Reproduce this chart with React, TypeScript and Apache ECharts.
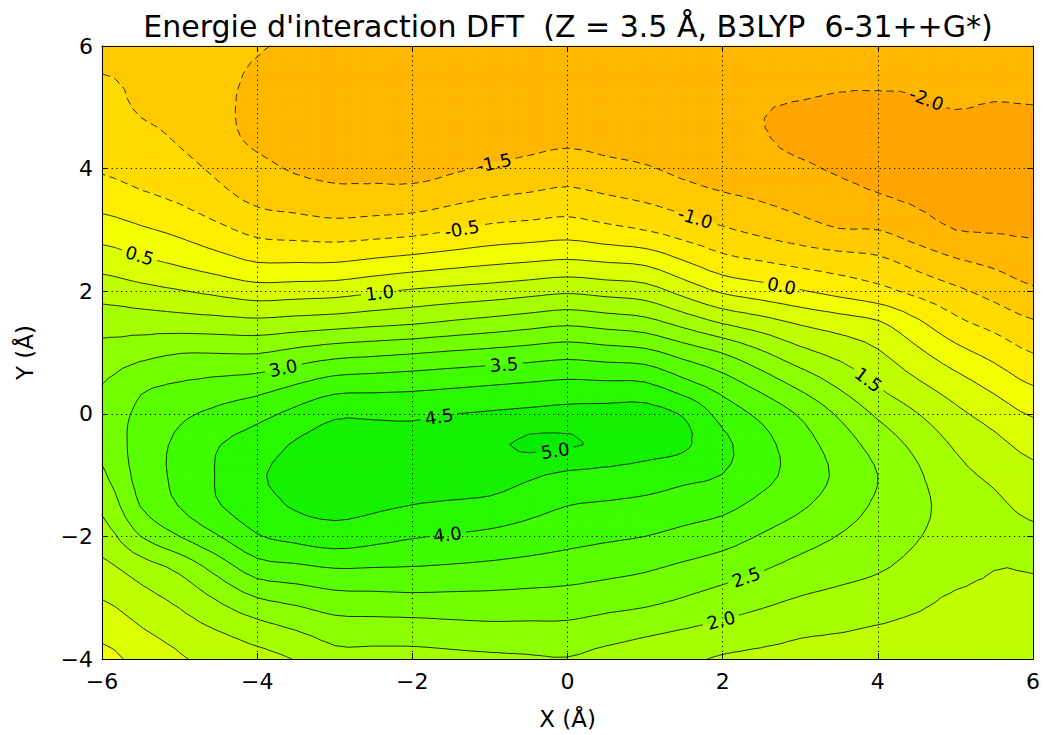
import React, { useEffect, useRef } from "react";
import * as echarts from "echarts";

// Grid of the field (Å)
const xGrid = [-6, -5.5, -5, -4.5, -4, -3.5, -3, -2.5, -2, -1.5, -1, -0.5, 0, 0.5, 1, 1.5, 2, 2.5, 3, 3.5, 4, 4.5, 5, 5.5, 6];
const yGrid = [6, 5.5, 5, 4.5, 4, 3.5, 3, 2.5, 2, 1.5, 1, 0.5, 0, -0.5, -1, -1.5, -2, -2.5, -3, -3.5, -4];

// Interaction energy, one column per x value (top y=6 to bottom y=-4)
const energy = [
  [-1.2, -0.98, -0.84, -0.69, -0.55, -0.21, 0.26, 0.77, 1.29, 1.78, 2.17, 2.49, 2.68, 2.62, 2.42, 2.11, 1.75, 1.38, 1.02, 0.68, 0.35],
  [-1.25, -1.09, -1.05, -0.87, -0.7, -0.39, 0.07, 0.58, 1.16, 1.75, 2.33, 2.88, 3.12, 3.22, 3.2, 3.02, 2.5, 1.76, 1.33, 0.98, 0.65],
  [-1.3, -1.2, -1.15, -1.05, -0.84, -0.56, -0.12, 0.39, 1.03, 1.71, 2.48, 3.02, 3.4, 3.6, 3.62, 3.52, 3.0, 2.14, 1.64, 1.27, 0.95],
  [-1.38, -1.38, -1.38, -1.33, -1.1, -0.83, -0.38, 0.18, 0.88, 1.66, 2.48, 3.13, 3.62, 3.98, 4.04, 3.97, 3.48, 2.72, 2.07, 1.54, 1.15],
  [-1.47, -1.57, -1.64, -1.6, -1.36, -1.1, -0.64, -0.04, 0.73, 1.61, 2.47, 3.23, 3.84, 4.25, 4.45, 4.3, 3.96, 3.29, 2.5, 1.81, 1.35],
  [-1.57, -1.7, -1.74, -1.68, -1.55, -1.21, -0.71, -0.05, 0.77, 1.68, 2.64, 3.47, 4.14, 4.55, 4.6, 4.55, 4.15, 3.41, 2.67, 2.04, 1.52],
  [-1.72, -1.78, -1.8, -1.75, -1.62, -1.32, -0.77, -0.05, 0.81, 1.75, 2.8, 3.71, 4.43, 4.68, 4.75, 4.64, 4.28, 3.53, 2.84, 2.27, 1.85],
  [-1.76, -1.82, -1.84, -1.79, -1.66, -1.28, -0.72, 0.06, 0.94, 1.84, 2.88, 3.76, 4.43, 4.67, 4.74, 4.58, 4.17, 3.51, 2.87, 2.29, 1.85],
  [-1.8, -1.85, -1.87, -1.82, -1.7, -1.24, -0.66, 0.17, 1.06, 1.92, 2.96, 3.81, 4.42, 4.66, 4.72, 4.49, 4.04, 3.49, 2.9, 2.3, 1.85],
  [-1.83, -1.85, -1.85, -1.78, -1.57, -1.11, -0.52, 0.28, 1.15, 2.04, 3.05, 3.88, 4.49, 4.78, 4.74, 4.43, 3.96, 3.45, 2.89, 2.35, 1.89],
  [-1.85, -1.85, -1.82, -1.74, -1.44, -0.97, -0.37, 0.38, 1.23, 2.15, 3.13, 3.95, 4.55, 4.9, 4.75, 4.36, 3.88, 3.4, 2.88, 2.39, 1.92],
  [-1.85, -1.83, -1.77, -1.67, -1.34, -0.89, -0.3, 0.46, 1.33, 2.27, 3.22, 4.02, 4.61, 5.08, 4.58, 4.18, 3.77, 3.34, 2.85, 2.39, 1.95],
  [-1.85, -1.8, -1.72, -1.6, -1.24, -0.81, -0.23, 0.53, 1.43, 2.38, 3.31, 4.09, 4.66, 5.06, 4.4, 4.0, 3.66, 3.27, 2.82, 2.39, 1.98],
  [-1.87, -1.84, -1.78, -1.68, -1.35, -0.93, -0.37, 0.45, 1.33, 2.27, 3.22, 4.06, 4.67, 4.89, 4.34, 3.94, 3.58, 3.17, 2.74, 2.27, 1.85],
  [-1.88, -1.88, -1.84, -1.75, -1.45, -1.05, -0.51, 0.36, 1.23, 2.15, 3.13, 4.03, 4.68, 4.72, 4.27, 3.87, 3.5, 3.07, 2.66, 2.14, 1.72],
  [-1.89, -1.9, -1.9, -1.84, -1.63, -1.22, -0.73, 0.0, 0.83, 1.8, 2.8, 3.63, 4.45, 4.58, 4.13, 3.75, 3.36, 2.92, 2.49, 2.01, 1.59],
  [-1.9, -1.93, -1.95, -1.93, -1.8, -1.39, -0.94, -0.35, 0.43, 1.44, 2.48, 3.23, 3.81, 4.12, 3.99, 3.63, 3.21, 2.76, 2.31, 1.88, 1.45],
  [-1.88, -1.93, -1.99, -1.98, -1.87, -1.53, -1.12, -0.51, 0.24, 1.18, 2.06, 2.79, 3.38, 3.67, 3.65, 3.35, 2.96, 2.56, 2.15, 1.74, 1.4],
  [-1.85, -1.92, -2.02, -2.07, -1.94, -1.67, -1.3, -0.66, 0.04, 0.92, 1.64, 2.34, 2.94, 3.22, 3.3, 3.07, 2.71, 2.35, 1.98, 1.6, 1.35],
  [-1.88, -1.95, -2.05, -2.13, -2.05, -1.81, -1.48, -0.78, -0.16, 0.73, 1.35, 1.89, 2.43, 2.76, 2.9, 2.75, 2.48, 2.2, 1.87, 1.54, 1.33],
  [-1.9, -1.94, -2.08, -2.18, -2.15, -1.94, -1.5, -0.9, -0.35, 0.54, 1.05, 1.44, 1.92, 2.3, 2.5, 2.42, 2.25, 2.06, 1.76, 1.47, 1.3],
  [-1.88, -1.95, -2.04, -2.17, -2.21, -2.07, -1.75, -1.18, -0.63, 0.08, 0.61, 1.07, 1.52, 1.87, 2.08, 2.12, 2.03, 1.86, 1.61, 1.4, 1.28],
  [-1.85, -1.93, -1.99, -2.15, -2.27, -2.2, -2.0, -1.45, -0.9, -0.39, 0.17, 0.7, 1.12, 1.44, 1.65, 1.82, 1.8, 1.66, 1.45, 1.33, 1.25],
  [-1.85, -1.92, -2.02, -2.15, -2.26, -2.2, -2.04, -1.62, -1.17, -0.68, -0.17, 0.33, 0.79, 1.14, 1.4, 1.6, 1.69, 1.51, 1.44, 1.33, 1.25],
  [-1.85, -1.9, -2.01, -2.15, -2.25, -2.2, -2.07, -1.78, -1.43, -0.96, -0.51, -0.04, 0.45, 0.84, 1.14, 1.38, 1.58, 1.52, 1.42, 1.33, 1.25],
];

const contourLevels = [-2.0, -1.5, -1.0, -0.5, 0.0, 0.5, 1.0, 1.5, 2.0, 2.5, 3.0, 3.5, 4.0, 4.5, 5.0];
const bandColors = [
  "#FFA500", "#FFB700", "#FFC900", "#FFDB00", "#FFED00", "#F2FF00", "#D9FF00", "#BFFF00",
  "#A6FF00", "#8CFF00", "#73FF00", "#59FF00", "#40FC00", "#28F800", "#14F200", "#05EE00",
];

// Inline contour labels (level, approximate position)
const labelLevels = [-2.0, -1.5, -1.0, -0.5, 0.0, 0.5, 1.0, 1.5, 2.0, 2.5, 3.0, 3.5, 4.0, 4.5, 5.0];
const labelX = [4.61, -0.95, 1.65, -1.36, 2.76, -5.51, -2.42, 3.85, 1.97, 2.3, -3.67, -0.82, -1.55, -1.65, -0.16];
const labelY = [5.08, 4.12, 3.21, 3.0, 2.09, 2.6, 1.97, 0.51, -3.32, -2.65, 0.78, 0.83, -1.95, -0.08, -0.6];

const xTicks = [-6, -4, -2, 0, 2, 4, 6];
const yTicks = [-4, -2, 0, 2, 4, 6];

const TITLE = "Energie d'interaction DFT  (Z = 3.5 Å, B3LYP  6-31++G*)";
const FONT = "DejaVu Sans";
const LABEL_SIZE = 18;
const REFINE = 3; // drawing subdivisions per data cell (smooth surface through the read values)

type P = { x: number; y: number; v: number; id: number };

function clipPoly(poly: P[], level: number, keepAbove: boolean): P[] {
  const out: P[] = [];
  const n = poly.length;
  for (let i = 0; i < n; i++) {
    const a = poly[i];
    const b = poly[(i + 1) % n];
    const ina = keepAbove ? a.v >= level : a.v <= level;
    const inb = keepAbove ? b.v >= level : b.v <= level;
    if (ina) out.push(a);
    if (ina !== inb) {
      const t = (level - a.v) / (b.v - a.v);
      out.push({ x: a.x + t * (b.x - a.x), y: a.y + t * (b.y - a.y), v: level, id: -1 });
    }
  }
  return out;
}

function cr(t: number): number[] {
  const t2 = t * t, t3 = t2 * t;
  return [(-t3 + 2 * t2 - t) / 2, (3 * t3 - 5 * t2 + 2) / 2, (-3 * t3 + 4 * t2 + t) / 2, (t3 - t2) / 2];
}

function sampleAt(fi: number, fj: number): number {
  const nx = xGrid.length, ny = yGrid.length;
  const i0 = Math.min(Math.floor(fi), nx - 2);
  const j0 = Math.min(Math.floor(fj), ny - 2);
  const wi = cr(fi - i0), wj = cr(fj - j0);
  let s = 0;
  for (let a = 0; a < 4; a++) {
    const ii = Math.max(0, Math.min(nx - 1, i0 - 1 + a));
    for (let b = 0; b < 4; b++) {
      const jj = Math.max(0, Math.min(ny - 1, j0 - 1 + b));
      s += wi[a] * wj[b] * energy[ii][jj];
    }
  }
  return s;
}

function bandOf(v: number): number {
  let k = 0;
  while (k < contourLevels.length && v >= contourLevels[k]) k++;
  return k;
}

function fmtLabel(v: number) {
  return v.toFixed(1);
}

function labelWidth(s: string) {
  let w = 0;
  for (const ch of s) w += ch === "." ? 0.318 : ch === "-" ? 0.361 : 0.636;
  return w * LABEL_SIZE;
}

function polyPath(poly: P[]) {
  let s = "M" + poly[0].x.toFixed(1) + " " + poly[0].y.toFixed(1);
  for (let q = 1; q < poly.length; q++) s += "L" + poly[q].x.toFixed(1) + " " + poly[q].y.toFixed(1);
  return s + "Z";
}

function renderField(api: any) {
  const nx = xGrid.length;
  const ny = yGrid.length;
  const nxr = (nx - 1) * REFINE + 1;
  const nyr = (ny - 1) * REFINE + 1;
  const pts: P[][] = [];
  for (let i = 0; i < nxr; i++) {
    const col: P[] = [];
    const fi = i / REFINE;
    const i0 = Math.min(Math.floor(fi), nx - 2);
    const xv = xGrid[i0] + (fi - i0) * (xGrid[i0 + 1] - xGrid[i0]);
    for (let j = 0; j < nyr; j++) {
      const fj = j / REFINE;
      const j0 = Math.min(Math.floor(fj), ny - 2);
      const yv = yGrid[j0] + (fj - j0) * (yGrid[j0 + 1] - yGrid[j0]);
      const c = api.coord([xv, yv]);
      const v = i % REFINE === 0 && j % REFINE === 0 ? energy[i / REFINE][j / REFINE] : sampleAt(fi, fj);
      col.push({ x: c[0], y: c[1], v, id: i * nyr + j });
    }
    pts.push(col);
  }

  const nb = contourLevels.length + 1;
  const bandParts: string[][] = [];
  for (let k = 0; k < nb; k++) bandParts.push([]);
  const tris: P[][] = [];
  for (let i = 0; i < nxr - 1; i++) {
    for (let j = 0; j < nyr - 1; j++) {
      const a = pts[i][j], b = pts[i + 1][j], c = pts[i + 1][j + 1], d = pts[i][j + 1];
      const ba = bandOf(a.v);
      const flip = (i + j) % 2 === 0;
      const t1 = flip ? [a, b, c] : [a, b, d];
      const t2 = flip ? [a, c, d] : [b, c, d];
      tris.push(t1, t2);
      if (ba === bandOf(b.v) && ba === bandOf(c.v) && ba === bandOf(d.v)) {
        bandParts[ba].push(polyPath([a, b, c, d]));
        continue;
      }
      for (const t of [t1, t2]) {
        const vmin = Math.min(t[0].v, t[1].v, t[2].v);
        const vmax = Math.max(t[0].v, t[1].v, t[2].v);
        const k0 = bandOf(vmin), k1 = bandOf(vmax);
        for (let k = k0; k <= k1; k++) {
          const lo = k === 0 ? -Infinity : contourLevels[k - 1];
          const hi = k === nb - 1 ? Infinity : contourLevels[k];
          let poly: P[] = t;
          if (vmin < lo) poly = clipPoly(poly, lo, true);
          if (poly.length >= 3 && vmax > hi) poly = clipPoly(poly, hi, false);
          if (poly.length >= 3) bandParts[k].push(polyPath(poly));
        }
      }
    }
  }

  const children: any[] = [];
  bandParts.forEach((parts, k) => {
    if (parts.length) {
      children.push({
        type: "path",
        shape: { pathData: parts.join("") },
        style: { fill: bandColors[k], stroke: bandColors[k], lineWidth: 0.5 },
      });
    }
  });

  // contour lines
  const linesByLevel: number[][][][] = [];
  for (const L of contourLevels) {
    const segs: { k1: number; k2: number; p1: number[]; p2: number[] }[] = [];
    for (const t of tris) {
      const up = [t[0].v >= L, t[1].v >= L, t[2].v >= L];
      if (up[0] === up[1] && up[1] === up[2]) continue;
      const ends: { k: number; p: number[] }[] = [];
      for (let e = 0; e < 3; e++) {
        if (up[e] === up[(e + 1) % 3]) continue;
        const a = t[e], b = t[(e + 1) % 3];
        const lo = a.id < b.id ? a : b;
        const hi = a.id < b.id ? b : a;
        const tt = (L - lo.v) / (hi.v - lo.v);
        ends.push({ k: lo.id * 1000000 + hi.id, p: [lo.x + tt * (hi.x - lo.x), lo.y + tt * (hi.y - lo.y)] });
      }
      if (ends.length === 2) segs.push({ k1: ends[0].k, k2: ends[1].k, p1: ends[0].p, p2: ends[1].p });
    }
    const byKey = new Map<number, number[]>();
    segs.forEach((s, idx) => {
      if (!byKey.has(s.k1)) byKey.set(s.k1, []);
      if (!byKey.has(s.k2)) byKey.set(s.k2, []);
      byKey.get(s.k1)!.push(idx);
      byKey.get(s.k2)!.push(idx);
    });
    const used = new Array(segs.length).fill(false);
    const lines: number[][][] = [];
    for (let s0 = 0; s0 < segs.length; s0++) {
      if (used[s0]) continue;
      used[s0] = true;
      const line = [segs[s0].p1, segs[s0].p2];
      let key = segs[s0].k2;
      for (;;) {
        const nbi = (byKey.get(key) || []).find((t) => !used[t]);
        if (nbi === undefined) break;
        used[nbi] = true;
        const sg = segs[nbi];
        if (sg.k1 === key) { line.push(sg.p2); key = sg.k2; } else { line.push(sg.p1); key = sg.k1; }
      }
      key = segs[s0].k1;
      for (;;) {
        const nbi = (byKey.get(key) || []).find((t) => !used[t]);
        if (nbi === undefined) break;
        used[nbi] = true;
        const sg = segs[nbi];
        if (sg.k1 === key) { line.unshift(sg.p2); key = sg.k2; } else { line.unshift(sg.p1); key = sg.k1; }
      }
      lines.push(line);
    }
    linesByLevel.push(lines);
  }

  // labels: snap to nearest line point of their level
  const labels: any[] = [];
  const gaps: any[][] = contourLevels.map(() => []);
  for (let n = 0; n < labelLevels.length; n++) {
    const li = contourLevels.indexOf(labelLevels[n]);
    if (li < 0) continue;
    const target = api.coord([labelX[n], labelY[n]]);
    let best = Infinity, bx = 0, by = 0, bl = -1, bk = -1;
    linesByLevel[li].forEach((line, lidx) => {
      for (let k = 0; k < line.length - 1; k++) {
        const [x0, y0] = line[k], [x1, y1] = line[k + 1];
        const dx = x1 - x0, dy = y1 - y0;
        const len2 = dx * dx + dy * dy;
        if (len2 < 1e-9) continue;
        let t = ((target[0] - x0) * dx + (target[1] - y0) * dy) / len2;
        t = Math.max(0, Math.min(1, t));
        const px = x0 + t * dx, py = y0 + t * dy;
        const d = Math.hypot(px - target[0], py - target[1]);
        if (d < best) { best = d; bx = px; by = py; bl = lidx; bk = k; }
      }
    });
    if (bl < 0) continue;
    const line = linesByLevel[li][bl];
    const text = fmtLabel(labelLevels[n]);
    const w = labelWidth(text);
    let ka = bk, kb = bk + 1;
    while (ka > 0 && Math.hypot(line[ka][0] - bx, line[ka][1] - by) < w / 2) ka--;
    while (kb < line.length - 1 && Math.hypot(line[kb][0] - bx, line[kb][1] - by) < w / 2) kb++;
    const ddx = line[kb][0] - line[ka][0], ddy = line[kb][1] - line[ka][1];
    const dl = Math.hypot(ddx, ddy) || 1;
    let ux = ddx / dl, uy = ddy / dl;
    if (ux < 0) { ux = -ux; uy = -uy; }
    gaps[li].push({ cx: bx, cy: by, ux, uy, hw: w / 2 + 4, hh: 10 });
    labels.push({
      type: "text",
      x: bx,
      y: by,
      rotation: -Math.atan2(uy, ux),
      style: {
        text,
        fill: "#000",
        fontSize: LABEL_SIZE,
        fontFamily: FONT,
        align: "center",
        verticalAlign: "middle",
      },
    });
  }

  const cut = (line: number[][], gs: any[]): number[][][] => {
    if (!gs.length) return [line];
    const inside = (x: number, y: number) =>
      gs.some((g) => {
        const dx = x - g.cx, dy = y - g.cy;
        const a = dx * g.ux + dy * g.uy;
        const p = -dx * g.uy + dy * g.ux;
        return Math.abs(a) < g.hw && Math.abs(p) < g.hh;
      });
    const pieces: number[][][] = [];
    let cur: number[][] = [];
    for (let k = 0; k < line.length - 1; k++) {
      const [x0, y0] = line[k], [x1, y1] = line[k + 1];
      const len = Math.hypot(x1 - x0, y1 - y0);
      const near = gs.some((g) => Math.hypot((x0 + x1) / 2 - g.cx, (y0 + y1) / 2 - g.cy) < g.hw + len / 2 + 6);
      const steps = near ? Math.max(1, Math.ceil(len / 0.7)) : 1;
      for (let s = 0; s <= steps; s++) {
        if (s === 0 && k > 0) continue;
        const t = s / steps;
        const x = x0 + t * (x1 - x0), y = y0 + t * (y1 - y0);
        if (inside(x, y)) {
          if (cur.length > 1) pieces.push(cur);
          cur = [];
        } else cur.push([x, y]);
      }
    }
    if (cur.length > 1) pieces.push(cur);
    return pieces;
  };

  contourLevels.forEach((L, li) => {
    for (const line of linesByLevel[li]) {
      for (const piece of cut(line, gaps[li])) {
        children.push({
          type: "polyline",
          shape: { points: piece.map((p) => [Math.round(p[0] * 10) / 10, Math.round(p[1] * 10) / 10]) },
          style: {
            fill: null,
            stroke: "rgba(0,0,0,0.8)",
            lineWidth: 1,
            lineDash: L < 0 ? [7.5, 4.5] : null,
          },
        });
      }
    }
  });

  return children.concat(labels);
}

const minusFmt = (v: number) => (v < 0 ? "\u2212" + Math.abs(v) : String(v));

export default function App() {
  const ref = useRef<HTMLDivElement>(null);
  useEffect(() => {
    document.body.style.margin = "0";
    if (!ref.current) return;
    const chart = echarts.init(ref.current, null, { renderer: "svg" });
    const axisCommon = {
      type: "value",
      z: 5,
      axisLine: { show: true, onZero: false, lineStyle: { color: "#000", width: 1 } },
      axisTick: { show: true, inside: true, length: 6, lineStyle: { color: "#000", width: 1 } },
    };
    const labelStyle = { color: "#000", fontSize: 22, fontFamily: FONT };
    const gridLine = { show: true, lineStyle: { color: "#000", width: 1, type: [1.2, 3.6] } };
    chart.setOption({
      animation: false,
      backgroundColor: "#ffffff",
      textStyle: { fontFamily: FONT },
      title: {
        text: TITLE,
        left: 563,
        top: 6,
        textAlign: "center",
        textStyle: { fontFamily: FONT, fontSize: 30, fontWeight: "normal", color: "#000" },
      },
      grid: { left: 102, right: 8, top: 46, bottom: 68, containLabel: false },
      xAxis: [
        {
          ...axisCommon,
          position: "bottom",
          min: xTicks[0],
          max: xTicks[xTicks.length - 1],
          interval: 2,
          axisLabel: { ...labelStyle, margin: 11, formatter: minusFmt },
          splitLine: gridLine,
          name: "X (Å)",
          nameLocation: "middle",
          nameGap: 48,
          nameTextStyle: { color: "#000", fontSize: 23, fontFamily: FONT },
        },
        {
          ...axisCommon,
          position: "top",
          min: xTicks[0],
          max: xTicks[xTicks.length - 1],
          interval: 2,
          axisLabel: { show: false },
          splitLine: { show: false },
        },
      ],
      yAxis: [
        {
          ...axisCommon,
          position: "left",
          min: yTicks[0],
          max: yTicks[yTicks.length - 1],
          interval: 2,
          axisLabel: { ...labelStyle, margin: 9, formatter: minusFmt },
          splitLine: gridLine,
          name: "Y (Å)",
          nameLocation: "middle",
          nameGap: 66,
          nameRotate: 90,
          nameTextStyle: { color: "#000", fontSize: 23, fontFamily: FONT },
        },
        {
          ...axisCommon,
          position: "right",
          min: yTicks[0],
          max: yTicks[yTicks.length - 1],
          interval: 2,
          axisLabel: { show: false },
          splitLine: { show: false },
        },
      ],
      series: [
        {
          type: "custom",
          coordinateSystem: "cartesian2d",
          xAxisIndex: 0,
          yAxisIndex: 0,
          silent: true,
          z: 2,
          data: [[0, 0]],
          encode: { x: 0, y: 1 },
          renderItem: (_params: any, api: any) => ({ type: "group", children: renderField(api) }),
        },
      ],
    });
    return () => chart.dispose();
  }, []);
  return <div ref={ref} style={{ width: 1043, height: 735 }} />;
}
